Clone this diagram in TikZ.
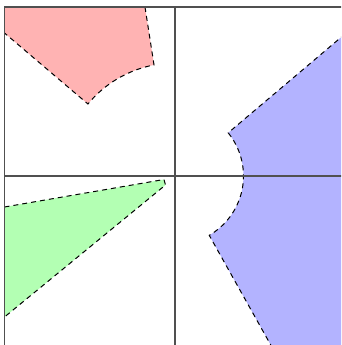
\documentclass[tikz,border=0pt]{standalone}
\usepackage{tikz}
\definecolor{redfill}{RGB}{255,179,179}
\definecolor{greenfill}{RGB}{179,255,179}
\definecolor{bluefill}{RGB}{179,179,255}
\definecolor{axisgray}{RGB}{80,80,80}
\tikzset{
  edgeline/.style={black, line width=1pt, dash pattern=on 5pt off 4pt},
  axisline/.style={axisgray, line width=1.2pt},
}
\begin{document}
\begin{tikzpicture}[x=1pt,y=1pt]
\useasboundingbox (-175,-169) rectangle (166,176);
\clip (-175,-169) rectangle (166,176);
% red region
\fill[redfill] (-170.5,169) -- (-30,169) -- (100.7:113) arc[start angle=100.7, end angle=140.4, radius=113] -- (-170.5,143) -- cycle;
\draw[edgeline] (-30,169) -- (100.7:113) arc[start angle=100.7, end angle=140.4, radius=113] -- (-170.5,143);
% green region
\fill[greenfill] (-170.5,-31) -- (-11,-3.5) -- (-9.5,-9) -- (-170.5,-141) -- cycle;
\draw[edgeline] (-170.5,-31) -- (-11,-3.5) -- (-9.5,-9) -- (-170.5,-141);
% blue region
\fill[bluefill] (170,142) -- (39.05:68.5) arc[start angle=39.05, end angle=-60, radius=68.5] -- (98,-173) -- (170,-173) -- cycle;
\draw[edgeline] (170,142) -- (39.05:68.5) arc[start angle=39.05, end angle=-60, radius=68.5] -- (98,-173);
% frame and axes
\draw[axisline] (-170.5,-175) -- (-170.5,169) -- (170,169);
\draw[axisline] (0,169) -- (0,-175);
\draw[axisline] (-170.5,0) -- (170,0);
\end{tikzpicture}
\end{document}
